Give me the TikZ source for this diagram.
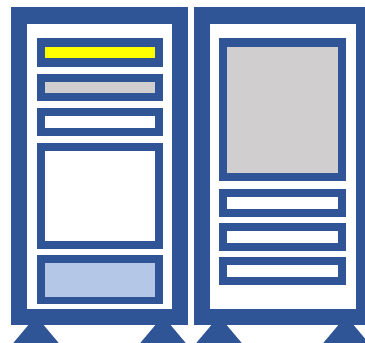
\documentclass[tikz,border=0pt]{standalone}
\definecolor{dblue}{HTML}{2F5597}
\definecolor{lblue}{HTML}{B4C7E7}
\definecolor{lgray}{HTML}{D0CECE}
\definecolor{yel}{HTML}{FFFF00}
\begin{document}
\begin{tikzpicture}[x=1pt,y=-1pt,
  frame/.style={fill=dblue},
  hole/.style={fill=#1}]
\useasboundingbox (0,0) rectangle (365,343);
\begin{scope}
\clip (0,0) rectangle (365,343);
% feet
\foreach \cx in {36,163,219,346}
  \fill[dblue] (\cx,316) -- (\cx+23.5,344) -- (\cx-23.5,344) -- cycle;
% panels
\fill[frame] (11,7) rectangle (188,325);
\fill[white] (27,24) rectangle (172,309);
\fill[frame] (194,7) rectangle (372,325);
\fill[white] (210,24) rectangle (356,309);
% left boxes
\fill[frame] (37,38) rectangle (163,67);   \fill[hole=yel]   (45,47) rectangle (155,58);
\fill[frame] (37,74) rectangle (163,101);  \fill[hole=lgray] (45,82) rectangle (155,93);
\fill[frame] (37,108) rectangle (163,136); \fill[hole=white] (45,116) rectangle (155,128);
\fill[frame] (37,143) rectangle (163,249); \fill[hole=white] (45,151) rectangle (155,241);
\fill[frame] (37,255) rectangle (163,304); \fill[hole=lblue] (45,263) rectangle (155,297);
% right boxes
\fill[frame] (219,38) rectangle (346,181);  \fill[hole=lgray] (227,47) rectangle (338,173);
\fill[frame] (219,189) rectangle (346,217); \fill[hole=white] (227,197) rectangle (338,209);
\fill[frame] (219,223) rectangle (346,251); \fill[hole=white] (227,231) rectangle (338,243);
\fill[frame] (219,257) rectangle (346,285); \fill[hole=white] (227,265) rectangle (338,277);
\end{scope}
\end{tikzpicture}
\end{document}
